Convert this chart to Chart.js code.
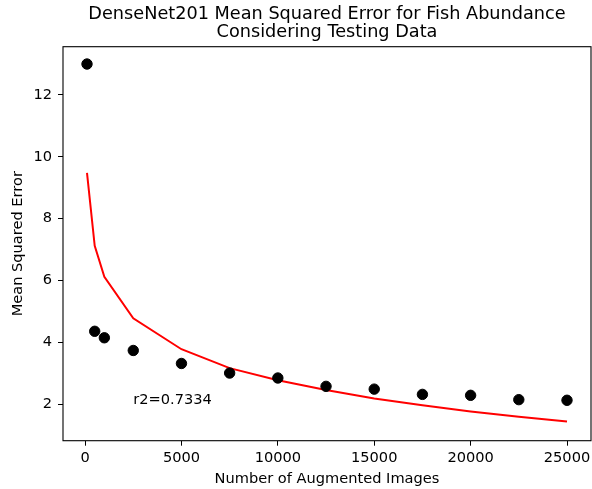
<!DOCTYPE html>
<html>
<head>
<meta charset="utf-8">
<script src="https://cdn.jsdelivr.net/npm/chart.js@4/dist/chart.umd.min.js"></script>
<style>
html,body{margin:0;padding:0;background:#fff;}
#wrap{width:592px;height:489px;}
</style>
</head>
<body>
<div id="wrap"><canvas id="c" width="592" height="489"></canvas></div>
<script>
// Data
const augmentedImages = [100, 500, 1000, 2500, 5000, 7500, 10000, 12500, 15000, 17500, 20000, 22500, 25000];
const mseObserved   = [13.0, 4.36, 4.15, 3.74, 3.32, 3.01, 2.85, 2.58, 2.49, 2.32, 2.29, 2.15, 2.13];
const mseFitted     = [9.48, 7.12, 6.12, 4.78, 3.78, 3.17, 2.78, 2.46, 2.19, 1.97, 1.77, 1.60, 1.44];
const xTickValues = [0, 5000, 10000, 15000, 20000, 25000];
const yTickValues = [2, 4, 6, 8, 10, 12];
const titleLines = ['DenseNet201 Mean Squared Error for Fish Abundance', 'Considering Testing Data'];
const xAxisLabel = 'Number of Augmented Images';
const yAxisLabel = 'Mean Squared Error';
const r2Label = 'r2=0.7334';
const r2Position = {x: 2500, y: 2};

const FONT = 'DejaVu Sans';
const TICK_SIZE = 14.6;
const TITLE_SIZE = 17.7;

const framePlugin = {
  id: 'frame',
  afterDraw(chart) {
    const {ctx, chartArea: a, scales} = chart;
    ctx.save();
    ctx.fillStyle = '#000';
    // annotation
    ctx.font = TICK_SIZE + 'px "' + FONT + '"';
    ctx.textAlign = 'left';
    ctx.textBaseline = 'alphabetic';
    ctx.fillText(r2Label, scales.x.getPixelForValue(r2Position.x), scales.y.getPixelForValue(r2Position.y));
    // title centred over the axes
    ctx.font = TITLE_SIZE + 'px "' + FONT + '"';
    ctx.textAlign = 'center';
    const cx = (a.left + a.right) / 2;
    ctx.fillText(titleLines[0], cx, 19.3);
    ctx.fillText(titleLines[1], cx, 36.6);
    // frame
    ctx.strokeStyle = '#000';
    ctx.lineWidth = 1.1;
    ctx.strokeRect(a.left, a.top, a.right - a.left, a.bottom - a.top);
    ctx.restore();
  }
};

new Chart(document.getElementById('c'), {
  type: 'scatter',
  data: {
    datasets: [
      {
        type: 'scatter',
        label: 'observed',
        data: augmentedImages.map((x, i) => ({x, y: mseObserved[i]})),
        backgroundColor: '#000',
        borderColor: '#000',
        pointRadius: 5.2,
        pointHoverRadius: 5.2,
        order: 1
      },
      {
        type: 'line',
        label: 'fit',
        data: augmentedImages.map((x, i) => ({x, y: mseFitted[i]})),
        borderColor: '#ff0000',
        borderWidth: 2,
        pointRadius: 0,
        fill: false,
        tension: 0,
        order: 2
      }
    ]
  },
  options: {
    responsive: false,
    animation: false,
    devicePixelRatio: 1,
    layout: {autoPadding: false, padding: {left: 0, right: 1, top: 46.7, bottom: 0}},
    plugins: {
      legend: {display: false},
      tooltip: {enabled: false},
      title: {display: false}
    },
    scales: {
      x: {
        type: 'linear',
        min: -1145,
        max: 26245,
        afterBuildTicks: s => { s.ticks = xTickValues.map(v => ({value: v})); },
        afterFit: s => { s.height = 48.3; s.paddingLeft = 0; s.paddingRight = 0; },
        ticks: {color: '#000', font: {family: FONT, size: TICK_SIZE}, padding: 3.5, maxRotation: 0, autoSkip: false,
                callback: v => String(v)},
        grid: {display: true, drawOnChartArea: false, drawTicks: true, tickLength: 5, color: '#000', lineWidth: 1},
        border: {display: false},
        title: {display: true, text: xAxisLabel, color: '#000', font: {family: FONT, size: TICK_SIZE}, padding: {top: 0, bottom: 1.5}}
      },
      y: {
        type: 'linear',
        min: 0.823,
        max: 13.56,
        afterBuildTicks: s => { s.ticks = yTickValues.map(v => ({value: v})); },
        afterFit: s => { s.width = 63; s.paddingTop = 0; s.paddingBottom = 0; },
        ticks: {color: '#000', font: {family: FONT, size: TICK_SIZE}, padding: 6, autoSkip: false,
                callback: v => String(v)},
        grid: {display: true, drawOnChartArea: false, drawTicks: true, tickLength: 5, color: '#000', lineWidth: 1},
        border: {display: false},
        title: {display: true, text: yAxisLabel, color: '#000', font: {family: FONT, size: TICK_SIZE}, padding: {top: 9.5, bottom: 0}}
      }
    }
  },
  plugins: [framePlugin]
});
</script>
</body>
</html>
